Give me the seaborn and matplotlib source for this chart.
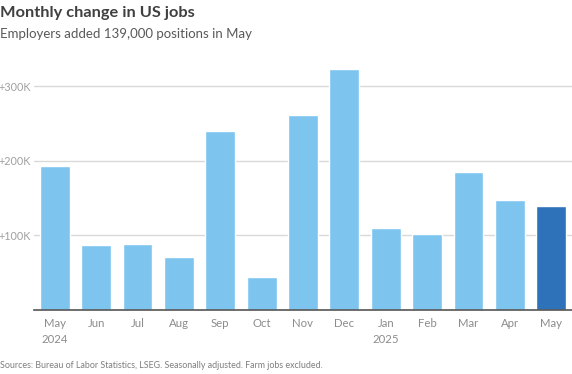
import matplotlib
matplotlib.use("Agg")
import matplotlib.pyplot as plt
import pandas as pd
import seaborn as sns

# chart data
months = ['May\n2024', 'Jun', 'Jul', 'Aug', 'Sep', 'Oct', 'Nov', 'Dec',
          'Jan\n2025', 'Feb', 'Mar', 'Apr', 'May']
jobs_added = [193000, 87000, 88000, 71000, 240000, 44000, 261000, 323000,
              110000, 102000, 185000, 147000, 139000]
is_latest = [False] * 12 + [True]
y_ticks = [100000, 200000, 300000]
y_tick_labels = ['+100K', '+200K', '+300K']

sns.set_theme(style="white")
plt.rcParams['font.family'] = ['Lato', 'DejaVu Sans']

df = pd.DataFrame({'month': months, 'jobs': jobs_added, 'latest': is_latest})

fig = plt.figure(figsize=(5.72, 3.74), dpi=100)
ax = fig.add_axes([0.0594, 0.171, 0.9406, 0.668])

sns.barplot(data=df, x='month', y='jobs', hue='latest',
            palette={False: '#7dc5ef', True: '#2e72b9'}, saturation=1,
            width=0.72, legend=False, ax=ax, zorder=2)

ax.set_xlim(-0.5, len(months) - 0.5)
ax.set_ylim(0, 335000)
ax.set_yticks(y_ticks)
ax.set_yticklabels(y_tick_labels)
ax.grid(axis='y', color='#d9d9d9', linewidth=1, zorder=0)
ax.set_axisbelow(True)

for side in ['top', 'right', 'left']:
    ax.spines[side].set_visible(False)
ax.spines['bottom'].set_color('#555555')
ax.spines['bottom'].set_linewidth(1.2)

ax.tick_params(axis='y', length=0, pad=2, labelsize=7.8, labelcolor='#a0a0a0')
ax.tick_params(axis='x', length=0, pad=6, labelsize=8.2, labelcolor='#8c8c8c')
for lbl in ax.get_xticklabels():
    lbl.set_linespacing(1.5)
ax.set_xlabel('')
ax.set_ylabel('')

fig.text(0.0, 0.965, 'Monthly change in US jobs', fontsize=11.8, fontweight='bold',
         color='#404040', ha='left', va='center')
fig.text(0.0, 0.908, 'Employers added 139,000 positions in May', fontsize=9.5,
         color='#595959', ha='left', va='center')
fig.text(0.0, 0.022, 'Sources: Bureau of Labor Statistics, LSEG. Seasonally adjusted. Farm jobs excluded.',
         fontsize=6.4, color='#7f7f7f', ha='left', va='center')

fig.savefig('out.png', dpi=100)
plt.close(fig)
